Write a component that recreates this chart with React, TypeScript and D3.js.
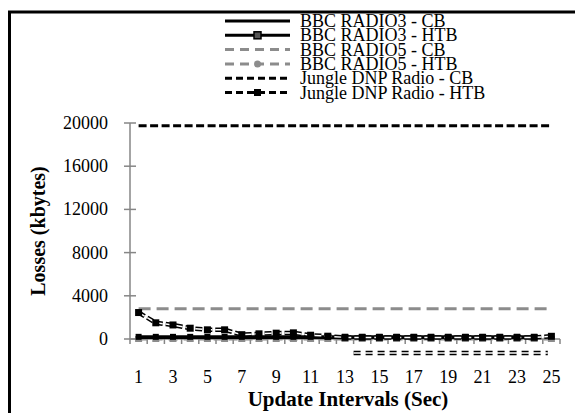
import React from 'react';
import * as d3 from 'd3';

const categories = [1, 2, 3, 4, 5, 6, 7, 8, 9, 10, 11, 12, 13, 14, 15, 16, 17, 18, 19, 20, 21, 22, 23, 24, 25];
const xTickLabels = [1, 3, 5, 7, 9, 11, 13, 15, 17, 19, 21, 23, 25];
const yTicks = [0, 4000, 8000, 12000, 16000, 20000];

const radio3CB = [150, 150, 150, 150, 150, 150, 150, 150, 150, 150, 150, 150, 150, 150, 150, 150, 150, 150, 150, 150, 150, 150, 150, 150];
const radio3HTB = [200, 200, 200, 200, 200, 200, 200, 200, 200, 200, 200, 200, 200, 200, 200, 200, 200, 200, 200, 200, 200, 200, 200, 200];
const radio5CB = [2800, 2800, 2800, 2800, 2800, 2800, 2800, 2800, 2800, 2800, 2800, 2800, 2800, 2800, 2800, 2800, 2800, 2800, 2800, 2800, 2800, 2800, 2800, 2800, 2800];
const radio5HTB = [0, 0, 0, 0, 0, 0, 0, 0, 0, 0, 0, 0, 0, 0, 0, 0, 0, 0, 0, 0, 0, 0, 0, 0, 0];
const jungleCB = [19750, 19750, 19750, 19750, 19750, 19750, 19750, 19750, 19750, 19750, 19750, 19750, 19750, 19750, 19750, 19750, 19750, 19750, 19750, 19750, 19750, 19750, 19750, 19750, 19750];
const jungleHTB = [2450, 1500, 1300, 1000, 850, 850, 400, 480, 540, 570, 350, 260, 150, 150, 150, 150, 150, 150, 150, 150, 150, 150, 150, 150, 250];

// stray double-dash segment seen below the axis in the source
const strayRange = [14, 25];
const strayValue = -1300;

const legendNames = [
  'BBC RADIO3 - CB',
  'BBC RADIO3 - HTB',
  'BBC RADIO5 - CB',
  'BBC RADIO5 - HTB',
  'Jungle DNP Radio - CB',
  'Jungle DNP Radio - HTB',
];

const W = 575;
const H = 413;
const GRAY = '#8c8c8c';
const AXIS = '#868686';
const FONT = '"Liberation Serif", "Times New Roman", serif';

export default function App() {
  const x = d3.scaleBand<number>().domain(categories).range([130, 560]).paddingInner(0).paddingOuter(0);
  const bw = x.bandwidth();
  const cx = (c: number) => (x(c) as number) + bw / 2;
  const y = d3.scaleLinear().domain([0, 20000]).range([339, 123]);

  const line = (vals: number[]) =>
    d3.line<number>().x((_, i) => cx(categories[i])).y((v) => y(v))(vals) as string;

  const legendY = (i: number) => 27 + i * 14.3;

  const strayX0 = x(strayRange[0]) as number;
  const strayX1 = (x(strayRange[1]) as number) + 5;
  const strayY = y(strayValue);

  return (
    <svg width={W} height={H} style={{ position: 'absolute', left: 0, top: 0, background: '#fff' }} fontFamily={FONT}>
      <rect x={0} y={0} width={W} height={H} fill="#fff" />
      {/* frame (cut off at right/bottom) */}
      <rect x={9.5} y={12} width={700} height={600} fill="none" stroke="#000" strokeWidth={3} />

      {/* legend */}
      {legendNames.map((name, i) => {
        const ly = legendY(i) - 6;
        return (
          <g key={name}>
            {i === 0 && <line x1={225} x2={290} y1={ly} y2={ly} stroke="#000" strokeWidth={3} />}
            {i === 1 && (
              <g>
                <line x1={225} x2={290} y1={ly} y2={ly} stroke="#000" strokeWidth={3} />
                <rect x={254} y={ly - 3.5} width={7} height={7} fill="#555" stroke="#000" strokeWidth={1.5} />
              </g>
            )}
            {i === 2 && <line x1={225} x2={290} y1={ly} y2={ly} stroke={GRAY} strokeWidth={3} strokeDasharray="9,6" />}
            {i === 3 && (
              <g>
                <line x1={225} x2={290} y1={ly} y2={ly} stroke={GRAY} strokeWidth={3} strokeDasharray="9,6" />
                <circle cx={257.5} cy={ly} r={3.5} fill={GRAY} />
              </g>
            )}
            {i === 4 && <line x1={225} x2={290} y1={ly} y2={ly} stroke="#000" strokeWidth={3} strokeDasharray="7,4" />}
            {i === 5 && (
              <g>
                <line x1={225} x2={290} y1={ly} y2={ly} stroke="#000" strokeWidth={3} strokeDasharray="7,4" />
                <rect x={254} y={ly - 3.5} width={7} height={7} fill="#000" />
              </g>
            )}
            <text x={300} y={legendY(i)} fontSize={18} fill="#000">{name}</text>
          </g>
        );
      })}

      {/* y axis */}
      <line x1={130} x2={130} y1={y(20000)} y2={y(0)} stroke={AXIS} strokeWidth={1.5} />
      {yTicks.map((t) => (
        <g key={t}>
          <line x1={124} x2={136} y1={y(t)} y2={y(t)} stroke={AXIS} strokeWidth={1.5} />
          <text x={108} y={y(t) + 6} textAnchor="end" fontSize={18} fill="#000">{t}</text>
        </g>
      ))}
      {/* x axis */}
      <line x1={130} x2={560} y1={y(0)} y2={y(0)} stroke={AXIS} strokeWidth={1.5} />
      {categories.map((c) => (
        <line key={'t' + c} x1={x(c) as number} x2={x(c) as number} y1={y(0)} y2={y(0) + 5} stroke={AXIS} strokeWidth={1.5} />
      ))}
      <line x1={560} x2={560} y1={y(0)} y2={y(0) + 5} stroke={AXIS} strokeWidth={1.5} />
      {xTickLabels.map((c) => (
        <text key={'l' + c} x={cx(c)} y={383} textAnchor="middle" fontSize={18} fill="#000">{c}</text>
      ))}

      {/* axis titles */}
      <text x={348} y={406} textAnchor="middle" fontSize={21} fontWeight="bold" fill="#000">Update Intervals (Sec)</text>
      <text transform={`translate(45,231) rotate(-90)`} textAnchor="middle" fontSize={20} fontWeight="bold" fill="#000">Losses (kbytes)</text>

      {/* series */}
      <path d={line(radio5HTB)} fill="none" stroke={GRAY} strokeWidth={3} strokeDasharray="9,6" />
      {radio5HTB.map((v, i) => (
        <rect key={'r5h' + i} x={cx(categories[i]) - 3.5} y={y(v) - 3} width={7} height={6} fill={GRAY} />
      ))}
      <path d={line(radio3CB)} fill="none" stroke="#000" strokeWidth={3} />
      <path d={line(radio3HTB)} fill="none" stroke="#000" strokeWidth={3} />
      {radio3HTB.map((v, i) => (
        <rect key={'r3h' + i} x={cx(categories[i]) - 3} y={y(v) - 3} width={6} height={6} fill="#000" />
      ))}
      <path d={line(radio5CB)} fill="none" stroke={GRAY} strokeWidth={3} strokeDasharray="12,6" />
      <path d={line(jungleCB)} fill="none" stroke="#000" strokeWidth={3} strokeDasharray="8,3.5" />
      <path d={line(jungleHTB)} fill="none" stroke="#000" strokeWidth={4.5} strokeDasharray="7,3" />
      <path d={line(jungleHTB)} fill="none" stroke="#fff" strokeWidth={1.5} strokeDasharray="7,3" />
      {jungleHTB.map((v, i) => (
        <rect key={'jh' + i} x={cx(categories[i]) - 3.5} y={y(v) - 3.5} width={7} height={7} fill="#000" />
      ))}

      {/* stray double-dash segment */}
      <line x1={strayX0} x2={strayX1} y1={strayY} y2={strayY} stroke="#000" strokeWidth={4.5} strokeDasharray="7,5" />
      <line x1={strayX0} x2={strayX1} y1={strayY} y2={strayY} stroke="#fff" strokeWidth={1.5} />
    </svg>
  );
}
